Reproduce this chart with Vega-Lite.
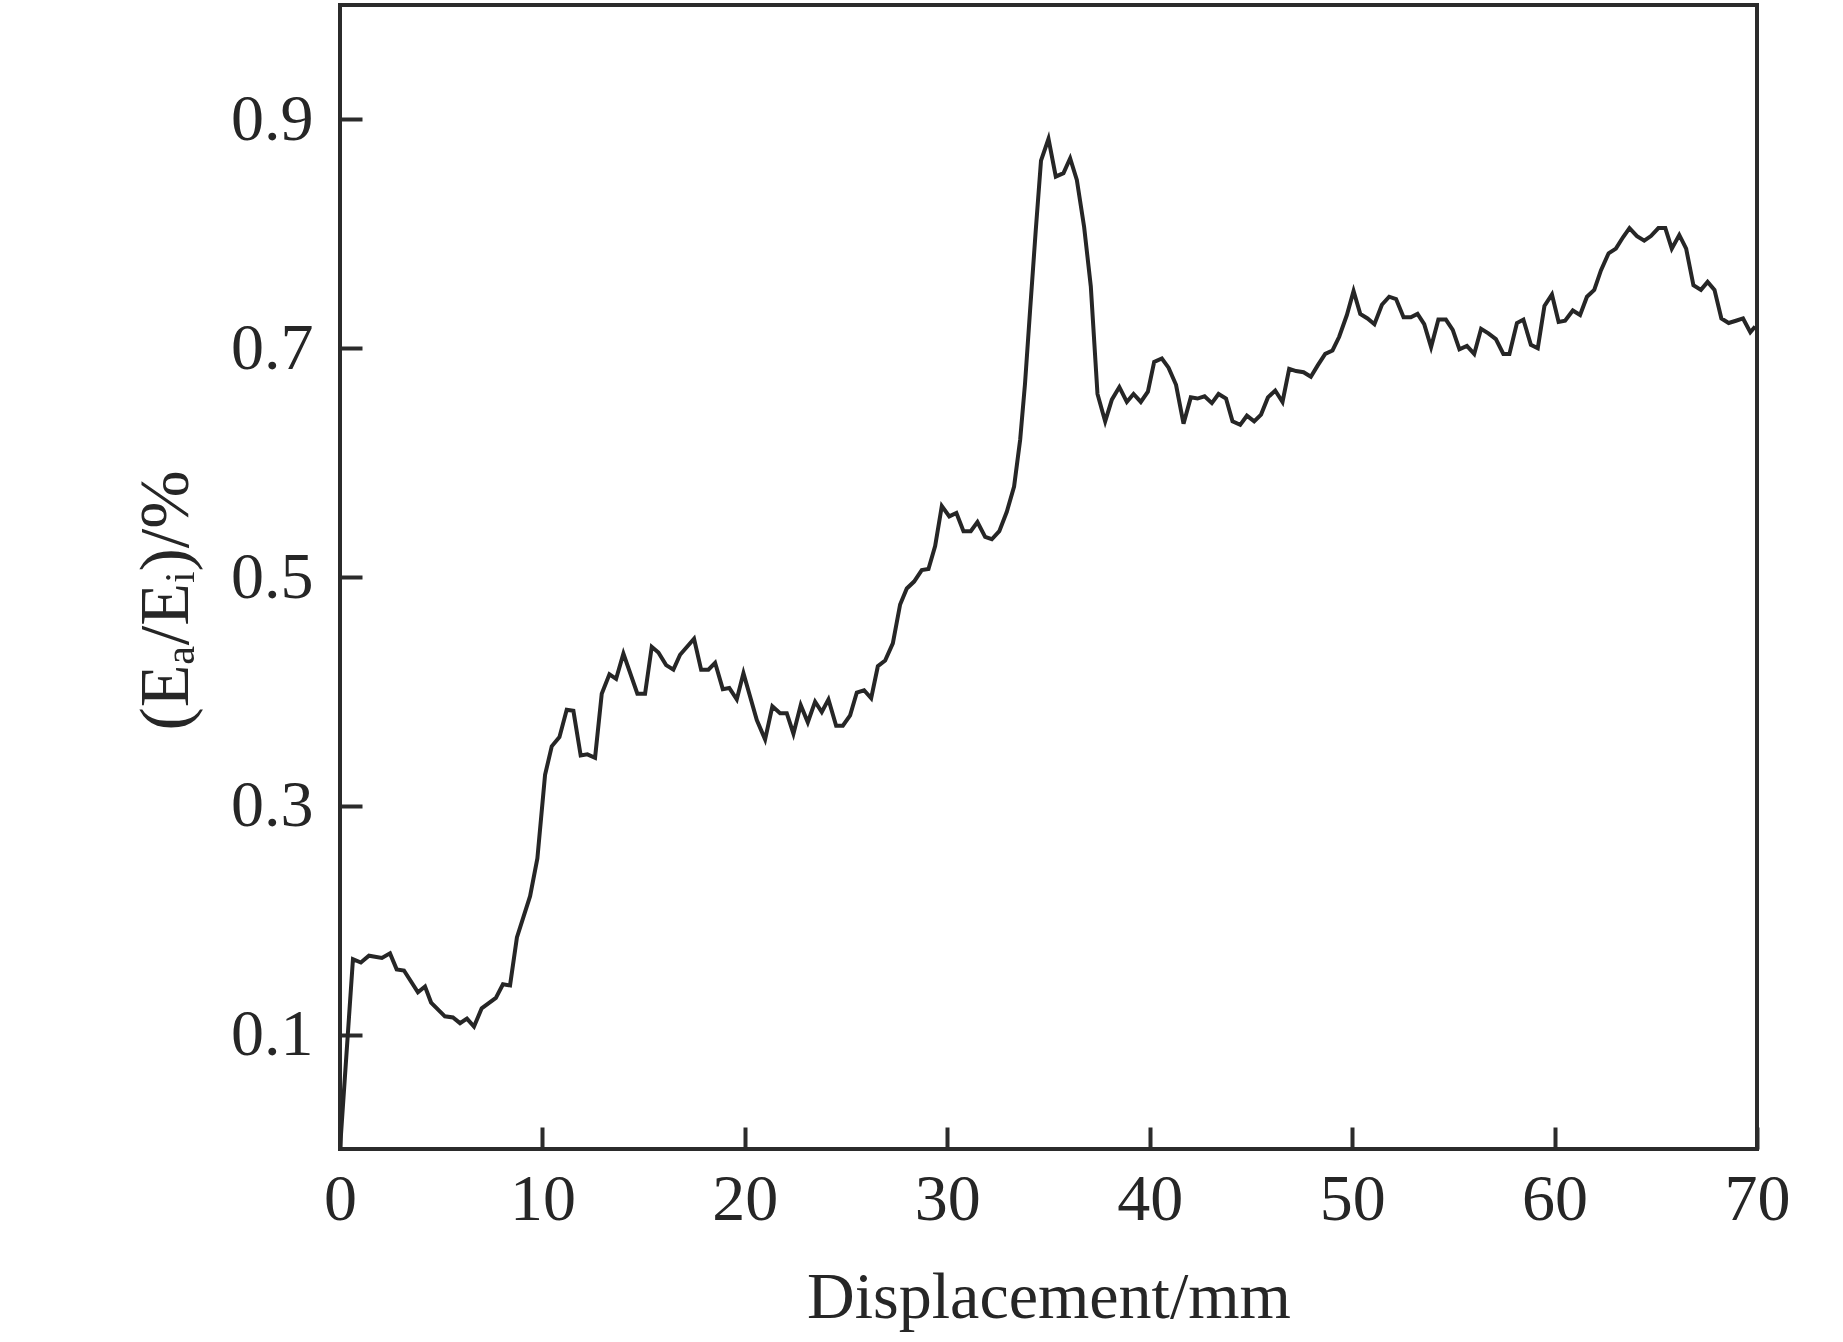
{
  "$schema": "https://vega.github.io/schema/vega-lite/v6.json",
  "autosize": {"type": "none"},
  "padding": {"left": 340, "top": 5, "right": 86, "bottom": 193},
  "width": 1417,
  "height": 1144,
  "background": "white",
  "config": {
    "view": {"stroke": "#2b2b2b", "strokeWidth": 4},
    "axis": {
      "grid": false,
      "domain": false,
      "ticks": true,
      "tickColor": "#2b2b2b",
      "tickWidth": 4,
      "tickSize": -22,
      "labelFont": "Liberation Serif",
      "labelFontSize": 66,
      "labelColor": "#262626",
      "titleFont": "Liberation Serif",
      "titleFontSize": 66,
      "titleFontWeight": "normal",
      "titleColor": "#262626"
    }
  },
  "data": {"values": [
    {"x":0,"y":0},{"x":0.64,"y":0.166},{"x":1.03,"y":0.163},{"x":1.43,"y":0.169},{"x":2.07,"y":0.167},{"x":2.47,"y":0.171},{"x":2.8,"y":0.157},{"x":3.16,"y":0.156},{"x":3.85,"y":0.137},{"x":4.2,"y":0.142},{"x":4.5,"y":0.128},{"x":5.18,"y":0.116},{"x":5.58,"y":0.115},{"x":5.93,"y":0.11},{"x":6.27,"y":0.114},{"x":6.62,"y":0.107},{"x":7.0,"y":0.123},{"x":7.7,"y":0.132},{"x":8.05,"y":0.144},{"x":8.4,"y":0.143},{"x":8.74,"y":0.185},{"x":9.39,"y":0.221},{"x":9.75,"y":0.254},{"x":10.13,"y":0.327},{"x":10.46,"y":0.352},{"x":10.84,"y":0.36},{"x":11.2,"y":0.384},{"x":11.53,"y":0.383},{"x":11.89,"y":0.344},{"x":12.22,"y":0.345},{"x":12.6,"y":0.342},{"x":12.93,"y":0.398},{"x":13.31,"y":0.415},{"x":13.64,"y":0.411},{"x":14.0,"y":0.433},{"x":14.69,"y":0.398},{"x":15.07,"y":0.398},{"x":15.4,"y":0.439},{"x":15.73,"y":0.434},{"x":16.11,"y":0.423},{"x":16.47,"y":0.419},{"x":16.8,"y":0.432},{"x":17.49,"y":0.446},{"x":17.84,"y":0.419},{"x":18.2,"y":0.419},{"x":18.53,"y":0.425},{"x":18.91,"y":0.402},{"x":19.23,"y":0.403},{"x":19.6,"y":0.393},{"x":19.93,"y":0.416},{"x":20.59,"y":0.375},{"x":21.0,"y":0.358},{"x":21.36,"y":0.387},{"x":21.74,"y":0.381},{"x":22.07,"y":0.381},{"x":22.4,"y":0.363},{"x":22.76,"y":0.388},{"x":23.11,"y":0.373},{"x":23.47,"y":0.391},{"x":23.8,"y":0.382},{"x":24.13,"y":0.393},{"x":24.51,"y":0.37},{"x":24.84,"y":0.37},{"x":25.2,"y":0.379},{"x":25.53,"y":0.399},{"x":25.89,"y":0.401},{"x":26.24,"y":0.394},{"x":26.57,"y":0.422},{"x":26.93,"y":0.427},{"x":27.31,"y":0.442},{"x":27.67,"y":0.476},{"x":28.0,"y":0.49},{"x":28.36,"y":0.496},{"x":28.74,"y":0.506},{"x":29.07,"y":0.507},{"x":29.4,"y":0.527},{"x":29.73,"y":0.562},{"x":30.1,"y":0.553},{"x":30.45,"y":0.556},{"x":30.8,"y":0.54},{"x":31.16,"y":0.54},{"x":31.49,"y":0.548},{"x":31.87,"y":0.535},{"x":32.2,"y":0.533},{"x":32.57,"y":0.54},{"x":32.94,"y":0.557},{"x":33.3,"y":0.579},{"x":33.6,"y":0.62},{"x":33.84,"y":0.669},{"x":34.09,"y":0.733},{"x":34.37,"y":0.803},{"x":34.63,"y":0.864},{"x":35.0,"y":0.883},{"x":35.36,"y":0.85},{"x":35.74,"y":0.853},{"x":36.07,"y":0.866},{"x":36.4,"y":0.847},{"x":36.76,"y":0.806},{"x":37.09,"y":0.754},{"x":37.42,"y":0.66},{"x":37.8,"y":0.636},{"x":38.13,"y":0.655},{"x":38.5,"y":0.666},{"x":38.87,"y":0.653},{"x":39.2,"y":0.66},{"x":39.56,"y":0.653},{"x":39.91,"y":0.662},{"x":40.22,"y":0.688},{"x":40.6,"y":0.691},{"x":40.93,"y":0.683},{"x":41.3,"y":0.668},{"x":41.67,"y":0.634},{"x":42.03,"y":0.657},{"x":42.36,"y":0.656},{"x":42.71,"y":0.658},{"x":43.07,"y":0.652},{"x":43.4,"y":0.66},{"x":43.77,"y":0.656},{"x":44.09,"y":0.636},{"x":44.47,"y":0.633},{"x":44.8,"y":0.641},{"x":45.16,"y":0.636},{"x":45.5,"y":0.642},{"x":45.84,"y":0.657},{"x":46.2,"y":0.663},{"x":46.56,"y":0.653},{"x":46.89,"y":0.682},{"x":47.23,"y":0.68},{"x":47.6,"y":0.679},{"x":47.96,"y":0.675},{"x":48.3,"y":0.685},{"x":48.67,"y":0.695},{"x":49.03,"y":0.698},{"x":49.36,"y":0.71},{"x":49.74,"y":0.729},{"x":50.07,"y":0.75},{"x":50.4,"y":0.73},{"x":50.76,"y":0.726},{"x":51.1,"y":0.721},{"x":51.47,"y":0.738},{"x":51.83,"y":0.745},{"x":52.17,"y":0.743},{"x":52.54,"y":0.727},{"x":52.9,"y":0.727},{"x":53.23,"y":0.73},{"x":53.56,"y":0.721},{"x":53.9,"y":0.701},{"x":54.26,"y":0.725},{"x":54.63,"y":0.725},{"x":54.97,"y":0.716},{"x":55.3,"y":0.699},{"x":55.67,"y":0.702},{"x":56.03,"y":0.695},{"x":56.37,"y":0.717},{"x":56.73,"y":0.713},{"x":57.1,"y":0.708},{"x":57.47,"y":0.695},{"x":57.77,"y":0.695},{"x":58.14,"y":0.722},{"x":58.46,"y":0.725},{"x":58.83,"y":0.703},{"x":59.17,"y":0.7},{"x":59.5,"y":0.737},{"x":59.87,"y":0.747},{"x":60.2,"y":0.723},{"x":60.52,"y":0.724},{"x":60.9,"y":0.733},{"x":61.26,"y":0.729},{"x":61.6,"y":0.745},{"x":61.96,"y":0.751},{"x":62.29,"y":0.768},{"x":62.67,"y":0.783},{"x":63.03,"y":0.787},{"x":63.38,"y":0.797},{"x":63.7,"y":0.805},{"x":64.07,"y":0.798},{"x":64.43,"y":0.794},{"x":64.76,"y":0.798},{"x":65.13,"y":0.805},{"x":65.47,"y":0.805},{"x":65.79,"y":0.787},{"x":66.16,"y":0.799},{"x":66.5,"y":0.787},{"x":66.86,"y":0.755},{"x":67.23,"y":0.751},{"x":67.56,"y":0.758},{"x":67.9,"y":0.751},{"x":68.24,"y":0.726},{"x":68.6,"y":0.722},{"x":68.96,"y":0.724},{"x":69.31,"y":0.726},{"x":69.67,"y":0.714},{"x":69.91,"y":0.719}
  ]},
  "mark": {"type": "line", "color": "#262626", "strokeWidth": 4, "strokeJoin": "miter", "clip": true},
  "encoding": {
    "x": {
      "field": "x", "type": "quantitative",
      "scale": {"domain": [0, 70], "nice": false, "zero": false},
      "axis": {"title": "Displacement/mm", "values": [0,10,20,30,40,50,60,70], "labelPadding": 40, "titlePadding": 33, "labelFlush": false}
    },
    "y": {
      "field": "y", "type": "quantitative",
      "scale": {"domain": [0, 1.0], "nice": false, "zero": false},
      "axis": {"title": "(Eₐ/Eᵢ)/%", "values": [0.1,0.3,0.5,0.7,0.9], "format": ".1f", "labelPadding": 49, "titlePadding": 28, "titleFontSize": 70, "titleY": 595}
    }
  }
}
